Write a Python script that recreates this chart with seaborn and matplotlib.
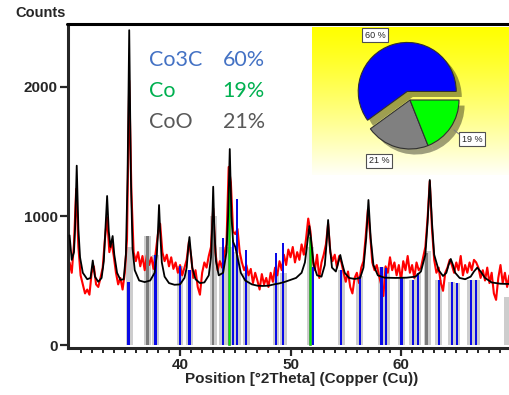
import numpy as np
import pandas as pd
import matplotlib
matplotlib.use("Agg")
import matplotlib.pyplot as plt
from matplotlib.lines import Line2D
import seaborn as sns

# observed pattern (red), one value every 0.2 deg starting at 30.0
obs_start = 30.0
obs_step = 0.2
obs_counts = [
    640, 560, 780, 1210, 760, 540, 470, 400, 430, 390,
    560, 610, 470, 450, 520, 600, 820, 990, 720, 800,
    690, 560, 470, 520, 430, 560, 820, 2050, 1180, 720,
    650, 720, 610, 690, 580, 700, 620, 680, 590, 720,
    860, 940, 720, 650, 700, 610, 680, 590, 640, 560,
    620, 540, 600, 660, 800, 690, 520, 580, 450, 390,
    560, 640, 600, 690, 760, 1060, 720, 580, 650, 600,
    700, 780, 1380, 1260, 880, 860, 900, 720, 640, 580,
    620, 540, 590, 480, 560, 500, 430, 550, 470, 520,
    450, 560, 490, 600, 540, 650, 580, 700, 620, 740,
    680, 760, 640, 720, 660, 780, 700, 820, 980, 880,
    660, 580, 700, 520, 640, 700, 780, 940, 720, 650,
    700, 600, 690, 640, 560, 490, 570, 450, 400, 520,
    560, 480, 600, 650, 840, 1050, 860, 640, 580, 620,
    540, 470, 380, 610, 560, 680, 580, 640, 540, 620,
    500, 650, 580, 690, 560, 620, 520, 640, 580, 600,
    680, 760, 980, 1270, 900, 660, 560, 600, 480, 420,
    560, 600, 660, 620, 560, 640, 580, 690, 540, 620,
    560, 640, 580, 660, 640, 600, 520, 580, 500, 600,
    480, 560, 400, 350, 520, 620, 480, 560, 450, 540,
]

# calculated profile (black), (2theta, counts) vertices
calc_profile = [
    (30.0, 850), (30.2, 660), (30.4, 720), (30.5, 900), (30.65, 1390),
    (30.8, 900), (30.95, 680), (31.2, 560), (31.6, 510), (31.9, 520),
    (32.1, 655), (32.3, 530), (32.6, 490), (32.9, 520), (33.1, 650),
    (33.25, 900), (33.4, 1155), (33.55, 880), (33.7, 760), (33.9, 845),
    (34.05, 700), (34.3, 560), (34.6, 505), (34.9, 510), (35.1, 700),
    (35.25, 1300), (35.4, 2440), (35.55, 1300), (35.7, 750), (35.9, 580),
    (36.3, 500), (36.8, 488), (37.3, 500), (37.7, 560), (37.9, 700),
    (38.0, 880), (38.1, 1085), (38.2, 880), (38.35, 640), (38.6, 530),
    (39.0, 480), (39.5, 467), (40.0, 470), (40.4, 520), (40.6, 600),
    (40.75, 760), (40.85, 837), (40.95, 740), (41.1, 600), (41.4, 510),
    (41.8, 480), (42.2, 485), (42.6, 540), (42.8, 680), (42.9, 900),
    (43.0, 1227), (43.1, 900), (43.25, 650), (43.5, 540), (43.9, 560),
    (44.2, 720), (44.35, 1000), (44.5, 1519), (44.65, 1000), (44.8, 800),
    (45.0, 760), (45.2, 680), (45.5, 560), (45.9, 500), (46.5, 470),
    (47.0, 460), (47.5, 458), (48.0, 460), (48.5, 470), (49.0, 478),
    (49.5, 490), (50.0, 505), (50.5, 520), (51.0, 560), (51.3, 640),
    (51.55, 820), (51.7, 922), (51.85, 820), (52.1, 620), (52.4, 540),
    (52.8, 530), (53.1, 620), (53.25, 780), (53.4, 969), (53.55, 770),
    (53.75, 600), (54.1, 570), (54.35, 650), (54.5, 698), (54.65, 640),
    (54.9, 560), (55.3, 520), (55.8, 512), (56.3, 520), (56.6, 600),
    (56.85, 830), (57.05, 1124), (57.25, 830), (57.5, 620), (57.9, 540),
    (58.5, 522), (59.5, 520), (60.5, 522), (61.3, 530), (61.8, 570),
    (62.2, 700), (62.4, 950), (62.6, 1279), (62.8, 950), (63.0, 700),
    (63.4, 580), (63.8, 535), (64.1, 560), (64.3, 620), (64.5, 667),
    (64.7, 620), (64.9, 560), (65.3, 520), (65.8, 510), (66.3, 530),
    (66.6, 570), (66.9, 600), (67.2, 570), (67.6, 520), (68.2, 485),
    (69.0, 475), (69.86, 473),
]

# reference lines of each phase
co3c_pos = [35.34, 37.77, 40.0, 40.86, 43.88, 44.78, 45.12, 46.0, 48.68, 49.33,
            52.0, 54.6, 56.27, 58.23, 58.65, 60.05, 61.05, 61.55, 63.4, 64.6,
            65.05, 66.3, 66.8]
co3c_h = [491, 698, 612, 580, 830, 814, 1132, 736, 713, 791,
          607, 581, 535, 605, 597, 530, 504, 560, 504, 491,
          480, 504, 504]
co_pos = [44.42, 51.73]
co_h = [1290, 840]
coo_pos = [37.05, 43.0, 62.3]
coo_h = [847, 1000, 713]
# light grey width bands (centre, height)
bands = [(35.4, 760), (37.05, 847), (37.77, 698), (40.0, 612), (40.86, 580),
         (43.0, 1000), (43.88, 760), (44.42, 760), (44.9, 720), (45.2, 700), (46.0, 560),
         (48.68, 560), (49.33, 560), (51.8, 760), (54.6, 581), (56.27, 535),
         (58.23, 605), (58.65, 597), (60.05, 530), (61.05, 504), (61.5, 560),
         (62.4, 730), (63.4, 504), (64.6, 491), (65.05, 480), (66.3, 504),
         (66.8, 504), (69.6, 372)]

phase_names = ["Co3C", "Co", "CoO"]
phase_pct = [60, 19, 21]
text_colors = ["#4472C4", "#00B050", "#595959"]

W, H = 510, 395
sns.set_style("ticks")
plt.rcParams["font.family"] = ["Liberation Sans", "DejaVu Sans"]

fig = plt.figure(figsize=(W / 100, H / 100), dpi=100)
ax = fig.add_axes([68 / W, 1 - 348 / H, (W - 68) / W, (348 - 24) / H])
ax.set_facecolor("none")
ax.set_zorder(2)

obs = pd.DataFrame({"x": obs_start + obs_step * np.arange(len(obs_counts)), "y": obs_counts})
calc = pd.DataFrame(calc_profile, columns=["x", "y"])

ax.bar([b[0] for b in bands], [b[1] for b in bands], width=0.62, color="#cdcdcd", linewidth=0, zorder=1)

sns.lineplot(data=obs, x="x", y="y", color="#ff0000", lw=1.5, ax=ax, zorder=2)

ax.bar(co3c_pos, co3c_h, width=0.2, color="#0a0ae6", linewidth=0, zorder=3)
ax.bar(coo_pos, coo_h, width=0.2, color="#7a7a7a", linewidth=0, zorder=3)
ax.bar(co_pos, co_h, width=0.2, color="#00ee00", edgecolor="#208020", linewidth=0.4, zorder=3)

sns.lineplot(data=calc, x="x", y="y", color="black", lw=1.3, ax=ax, zorder=4)

ax.set_xlim(29.86, 69.86)
ax.set_ylim(-23, 2488)
ax.set_xticks([40, 50, 60])
ax.set_xticks([v for v in range(31, 70) if v % 10 != 0], minor=True)
ax.set_yticks([0, 1000, 2000])
ax.tick_params(axis="both", which="major", length=6, width=1.6, labelsize=11, pad=1.5)
ax.tick_params(axis="x", which="minor", length=3.5, width=1.4)
for lab in ax.get_xticklabels() + ax.get_yticklabels():
    lab.set_fontweight("bold")
ax.spines["right"].set_visible(False)
ax.spines["top"].set_visible(False)
for s in ["left", "bottom"]:
    ax.spines[s].set_linewidth(2.2)
ax.set_ylabel("")
ax.set_xlabel("Position [°2Theta] (Copper (Cu))", fontsize=11, fontweight="bold", labelpad=0)
ax.xaxis.set_label_coords((302 - 68) / (W - 68), -0.075)

fig.text(15 / W, 1 - 13 / H, "Counts", fontsize=10.5, fontweight="bold", va="center", ha="left")

# phase percentages
for i, (name, pct) in enumerate(zip(phase_names, phase_pct)):
    yb = 1 - (66 + 31 * i) / H
    fig.text(149 / W, yb, name, color=text_colors[i], fontsize=15.5, family=["Lato", "DejaVu Sans"],
             va="baseline", zorder=5)
    fig.text(265 / W, yb, f"{pct}%", color=text_colors[i], fontsize=15.5, family=["Lato", "DejaVu Sans"],
             va="baseline", ha="right", zorder=5)

# yellow inset box, just under the top frame line
bax = fig.add_axes([312 / W, 1 - 175 / H, (W - 312) / W, 148 / H])
bax.set_zorder(1)
grad = np.linspace(0, 1, 200)[:, None]
img = np.dstack([np.ones_like(grad), np.ones_like(grad), 0.97 * grad ** 1.2])
bax.imshow(img, aspect="auto", extent=[0, 1, 0, 1], origin="upper")
bax.set_axis_off()
# top frame line across the whole width
fig.add_artist(Line2D([66.9 / W, 1.0], [1 - 24 / H, 1 - 24 / H], color="black", lw=2.2, zorder=10))

# pie
pie_colors = {"Co3C": "#0000ff", "Co": "#00ff00", "CoO": "#808080"}
order = [0, 2, 1]
pax = fig.add_axes([(410 - 62.5) / W, 1 - (100 + 62.5) / H, 125 / W, 125 / H])
pax.set_zorder(3)
pax.pie([phase_pct[k] for k in order], colors=[pie_colors[phase_names[k]] for k in order],
        explode=[0.18, 0, 0], startangle=0, counterclock=True, radius=0.98,
        wedgeprops={"edgecolor": "#303030", "linewidth": 0.8},
        shadow={"ox": 0.08, "oy": -0.08, "facecolor": "black", "edgecolor": "none", "alpha": 0.38})

box = dict(boxstyle="square,pad=0.25", fc="white", ec="#505050", lw=0.8)
fig.text(375 / W, 1 - 35 / H, f"{phase_pct[0]} %", fontsize=6.5, ha="center", va="center", bbox=box, zorder=6)
fig.text(472 / W, 1 - 139 / H, f"{phase_pct[1]} %", fontsize=6.5, ha="center", va="center", bbox=box, zorder=6)
fig.text(379 / W, 1 - 161 / H, f"{phase_pct[2]} %", fontsize=6.5, ha="center", va="center", bbox=box, zorder=6)
fig.add_artist(Line2D([459 / W, 454 / W], [1 - 134 / H, 1 - 130 / H], color="#808080", lw=0.8, zorder=6))

fig.savefig("out.png", dpi=100)
